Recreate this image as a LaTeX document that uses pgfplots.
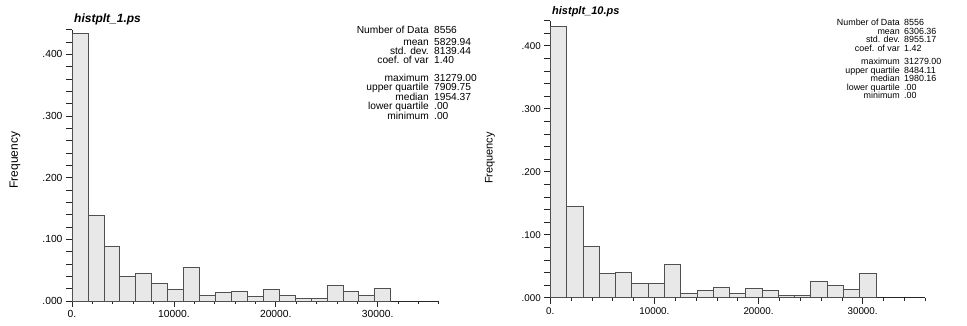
\documentclass[border=0pt]{standalone}
\usepackage{fontspec}
\setmainfont{Liberation Sans}
\usepackage{pgfplots}
\pgfplotsset{compat=1.18}
\definecolor{barfill}{RGB}{232,232,232}
\definecolor{baredge}{RGB}{80,80,80}
\pgfplotsset{histstyle/.style={
  scale only axis, anchor=south west,
  axis lines=left, axis line style={-, black!85, line width=0.7pt},
  tick align=outside, tick pos=left,
  xmin=0, xmax=36000, ymin=0, ymax=0.44,
  xtick={0,10000,20000,30000}, xticklabels={0.,10000.,20000.,30000.},
  minor xtick={2000,4000,...,36000},
  ytick={0,0.02,0.04,0.06,0.08,0.1,0.12,0.14,0.16,0.18,0.2,0.22,0.24,0.26,0.28,0.3,0.32,0.34,0.36,0.38,0.4,0.42,0.44},
  yticklabels={.000,{},{},{},{},.100,{},{},{},{},.200,{},{},{},{},.300,{},{},{},{},.400,{},{}},
  major tick length=6pt, minor tick length=3pt,
  tick style={black!85, line width=0.6pt},
  scaled x ticks=false, scaled y ticks=false,
  clip=false,
}}
\pgfplotstableread{
x      a       b
0      0.4335  0.4310
1564   0.1395  0.1455
3128   0.0886  0.0820
4692   0.0405  0.0386
6256   0.0454  0.0407
7820   0.0286  0.0233
9384   0.0195  0.0233
10948  0.0546  0.0524
12512  0.0097  0.0074
14076  0.0135  0.0111
15640  0.0162  0.0159
17204  0.0081  0.0063
18768  0.0189  0.0143
20332  0.0097  0.0111
21896  0.0043  0.0042
23460  0.0043  0.0042
25024  0.0259  0.0265
26588  0.0162  0.0190
28152  0.0097  0.0127
29716  0.0205  0.0392
31280  0      0
}\histdata
\begin{document}
\begin{tikzpicture}[x=1pt,y=1pt]
\useasboundingbox (0,0) rectangle (967,325);
% left panel
\begin{axis}[histstyle, at={(72pt,24pt)}, width=366.8pt, height=271.4pt,
  tick label style={font=\fontsize{10.3}{10.3}\selectfont}]
\addplot[ybar interval, fill=barfill, draw=baredge, line width=0.7pt] table[x=x,y=a] {\histdata};
\end{axis}
\node[anchor=base west, inner sep=0pt, font=\fontsize{12}{12}\selectfont\bfseries\itshape] at (74,302) {histplt\_1.ps};
\node[rotate=90, inner sep=0pt, font=\fontsize{12}{12}\selectfont] at (15,165) {Frequency};
\begin{scope}[every node/.style={inner sep=0pt, font=\fontsize{10.2}{10.2}\selectfont}]
\node[anchor=mid east] at (429,294) {Number of Data}; \node[anchor=mid west] at (434,294) {8556};
\node[anchor=mid east] at (429,282.5) {mean}; \node[anchor=mid west] at (434,282.5) {5829.94};
\node[anchor=mid east] at (429,273) {std. dev.}; \node[anchor=mid west] at (434,273) {8139.44};
\node[anchor=mid east] at (429,264) {coef. of var}; \node[anchor=mid west] at (434,264) {1.40};
\node[anchor=mid east] at (429,246) {maximum}; \node[anchor=mid west] at (434,246) {31279.00};
\node[anchor=mid east] at (429,236.8) {upper quartile}; \node[anchor=mid west] at (434,236.8) {7909.75};
\node[anchor=mid east] at (429,227.5) {median}; \node[anchor=mid west] at (434,227.5) {1954.37};
\node[anchor=mid east] at (429,218) {lower quartile}; \node[anchor=mid west] at (434,218) {.00};
\node[anchor=mid east] at (429,208.5) {minimum}; \node[anchor=mid west] at (434,208.5) {.00};
\end{scope}
% right panel
\begin{axis}[histstyle, at={(550.3pt,27.3pt)}, width=374.8pt, height=277.2pt,
  tick label style={font=\fontsize{9.8}{9.8}\selectfont}]
\addplot[ybar interval, fill=barfill, draw=baredge, line width=0.7pt] table[x=x,y=b] {\histdata};
\end{axis}
\node[anchor=base west, inner sep=0pt, font=\fontsize{11}{11}\selectfont\bfseries\itshape] at (552,311) {histplt\_10.ps};
\node[rotate=90, inner sep=0pt, font=\fontsize{11}{11}\selectfont] at (490,167) {Frequency};
\begin{scope}[every node/.style={inner sep=0pt, font=\fontsize{8.9}{8.9}\selectfont}]
\node[anchor=mid east] at (900,302) {Number of Data}; \node[anchor=mid west] at (904,302) {8556};
\node[anchor=mid east] at (900,293) {mean}; \node[anchor=mid west] at (904,293) {6306.36};
\node[anchor=mid east] at (900,285) {std. dev.}; \node[anchor=mid west] at (904,285) {8955.17};
\node[anchor=mid east] at (900,276.5) {coef. of var}; \node[anchor=mid west] at (904,276.5) {1.42};
\node[anchor=mid east] at (900,263) {maximum}; \node[anchor=mid west] at (904,263) {31279.00};
\node[anchor=mid east] at (900,254.5) {upper quartile}; \node[anchor=mid west] at (904,254.5) {8484.11};
\node[anchor=mid east] at (900,246) {median}; \node[anchor=mid west] at (904,246) {1980.16};
\node[anchor=mid east] at (900,237.5) {lower quartile}; \node[anchor=mid west] at (904,237.5) {.00};
\node[anchor=mid east] at (900,229) {minimum}; \node[anchor=mid west] at (904,229) {.00};
\end{scope}
\end{tikzpicture}
\end{document}
